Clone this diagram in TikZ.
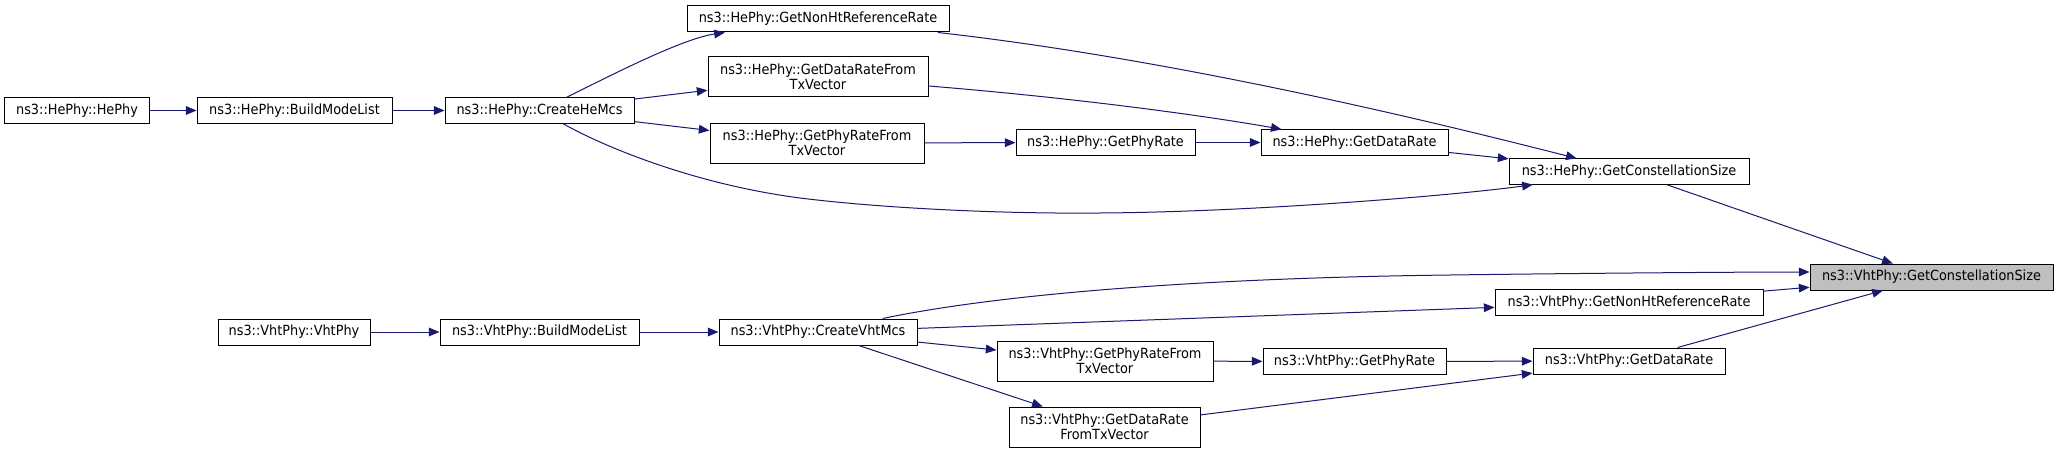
\documentclass[tikz,border=0pt]{standalone}
\usepackage{fontspec}
\setmainfont{DejaVu Sans}[FakeStretch=0.92]
\usetikzlibrary{arrows.meta}
\definecolor{edgeblue}{HTML}{191970}
\definecolor{hlgray}{HTML}{BFBFBF}
\begin{document}
\begin{tikzpicture}[x=0.75pt,y=-0.75pt,
  fn/.style={draw=black, line width=0.75pt, inner sep=0pt, align=center,
    font=\fontsize{10.5}{11.3}\selectfont, minimum height=19pt},
  fn2/.style={fn, minimum height=30pt},
  hl/.style={fill=hlgray},
  call/.style={draw=edgeblue, line width=0.75pt,
    -{Triangle[length=8pt,width=6.5pt]}}]
\path[use as bounding box, fill=white] (0,0) rectangle (2059,453);

% HePhy group
\node[fn, minimum width=108.75pt] (A) at (77,110.5) {ns3::HePhy::HePhy};
\node[fn, minimum width=146.25pt] (B) at (294.5,110.5) {ns3::HePhy::BuildModeList};
\node[fn, minimum width=141.75pt] (C) at (539.5,110.5) {ns3::HePhy::CreateHeMcs};
\node[fn, minimum width=196.5pt, minimum height=19.5pt] (D) at (818,19) {ns3::HePhy::GetNonHtReferenceRate};
\node[fn2, minimum width=165pt] (E) at (818,77) {ns3::HePhy::GetDataRateFrom\\TxVector};
\node[fn2, minimum width=160.5pt] (F) at (817,143) {ns3::HePhy::GetPhyRateFrom\\TxVector};
\node[fn, minimum width=134.25pt] (G) at (1105.5,142.5) {ns3::HePhy::GetPhyRate};
\node[fn, minimum width=140.25pt] (H) at (1354.5,142.5) {ns3::HePhy::GetDataRate};
\node[fn, minimum width=180pt] (I) at (1629,171.5) {ns3::HePhy::GetConstellationSize};
\node[fn, hl, minimum width=182.25pt, minimum height=19.5pt] (J) at (1931.5,277) {ns3::VhtPhy::GetConstellationSize};

% VhtPhy group
\node[fn, minimum width=114pt, minimum height=19.5pt] (K) at (294,332) {ns3::VhtPhy::VhtPhy};
\node[fn, minimum width=149.25pt, minimum height=19.5pt] (L) at (539.5,332) {ns3::VhtPhy::BuildModeList};
\node[fn, minimum width=148.5pt, minimum height=19.5pt] (M) at (818,332) {ns3::VhtPhy::CreateVhtMcs};
\node[fn, minimum width=201pt] (N) at (1629,302.5) {ns3::VhtPhy::GetNonHtReferenceRate};
\node[fn2, minimum width=162pt] (O) at (1105,361) {ns3::VhtPhy::GetPhyRateFrom\\TxVector};
\node[fn, minimum width=137.25pt] (P) at (1354.5,361.5) {ns3::VhtPhy::GetPhyRate};
\node[fn, minimum width=144pt, minimum height=19.5pt] (Q) at (1629,361) {ns3::VhtPhy::GetDataRate};
\node[fn2, minimum width=143.25pt] (R) at (1104.5,427) {ns3::VhtPhy::GetDataRate\\FromTxVector};

% HePhy edges
\draw[call] (A) -- (B);
\draw[call] (B) -- (C);
\draw[call] (C) .. controls (600,81) and (680,39) .. (D);
\draw[call] (C) -- (E);
\draw[call] (C) -- (F);
\draw[call] (C) .. controls (610,150) and (700,185) .. (800,198)
  .. controls (880,208) and (1000,214) .. (1100,213)
  .. controls (1250,212) and (1450,196) .. (I);
\draw[call] (D) .. controls (1200,62) and (1480,134) .. (I);
\draw[call] (E) .. controls (1100,100) and (1230,120) .. (H);
\draw[call] (F) -- (G);
\draw[call] (G) -- (H);
\draw[call] (H) -- (I);
\draw[call] (I) -- (J);

% VhtPhy edges
\draw[call] (K) -- (L);
\draw[call] (L) -- (M);
\draw[call] (M) .. controls (1000,294) and (1200,278) .. (1450,275)
  .. controls (1600,273) and (1750,272) .. ([shift={(0,-5)}]J.west);
\draw[call] (M) -- (N);
\draw[call] (N) -- (J);
\draw[call] (M) -- (O);
\draw[call] (M) -- (R);
\draw[call] (O) -- (P);
\draw[call] (P) -- (Q);
\draw[call] (R) -- (Q);
\draw[call] (Q) -- (J);
\end{tikzpicture}
\end{document}
